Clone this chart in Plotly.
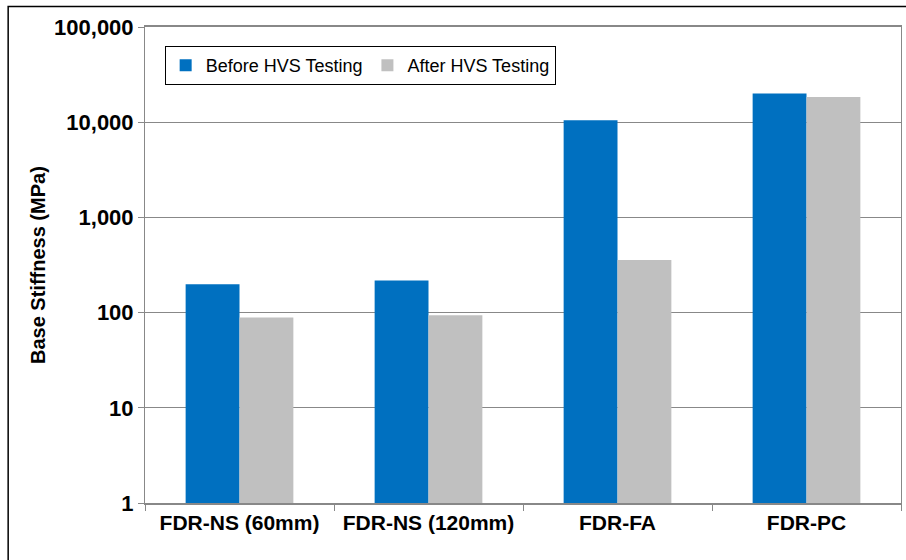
import plotly.graph_objects as go

# base stiffness per section (MPa)
secoes = ['FDR-NS (60mm)', 'FDR-NS (120mm)', 'FDR-FA', 'FDR-PC']
antes = [198, 217, 10500, 20000]
depois = [89, 94, 357, 18400]

ytick_vals = [1, 10, 100, 1000, 10000, 100000]
ytick_text = ['1', '10', '100', '1,000', '10,000', '100,000']

fonte = 'Liberation Sans, Arial, sans-serif'
cinza_eixo = '#888888'

fig = go.Figure()
fig.add_trace(go.Bar(x=secoes, y=antes, name='Before HVS Testing',
                     marker=dict(color='#0070C0', line=dict(width=0))))
fig.add_trace(go.Bar(x=secoes, y=depois, name='After HVS Testing',
                     marker=dict(color='#C0C0C0', line=dict(width=0))))

fig.update_layout(
    width=906, height=560,
    margin=dict(l=145, r=5, t=27, b=57),
    paper_bgcolor='white', plot_bgcolor='white',
    barmode='group', bargap=0.43, bargroupgap=0,
    font=dict(family=fonte, color='black'),
    showlegend=True,
    legend=dict(
        orientation='h', x=0.026, y=0.96, xanchor='left', yanchor='top',
        bordercolor='black', borderwidth=1, bgcolor='white',
        font=dict(size=18, family=fonte),
        itemwidth=30, tracegroupgap=0,
    ),
    xaxis=dict(
        automargin=False,
        showline=True, linecolor=cinza_eixo, linewidth=2, mirror=True,
        ticks='outside', ticklen=6, tickcolor=cinza_eixo, tickson='boundaries',
        tickfont=dict(size=21, family=fonte, weight='bold'),
        showgrid=False,
    ),
    yaxis=dict(
        automargin=False,
        type='log', range=[0, 5],
        tickvals=ytick_vals, ticktext=ytick_text,
        showline=True, linecolor=cinza_eixo, linewidth=1, mirror=True,
        ticks='outside', ticklen=6, tickcolor=cinza_eixo,
        showgrid=True, gridcolor=cinza_eixo, gridwidth=1,
        tickfont=dict(size=22, family=fonte, weight='bold'),
    ),
    annotations=[dict(
        text='Base Stiffness (MPa)', textangle=-90,
        xref='paper', yref='paper', x=-0.1415, y=0.5,
        xanchor='center', yanchor='middle', showarrow=False,
        font=dict(size=20, family=fonte, weight='bold'),
    )],
    # outer chart frame (right and bottom sides fall outside the picture)
    shapes=[dict(
        type='rect', xref='paper', yref='paper',
        x0=-0.181, x1=1.05, y0=-0.2, y1=1.043,
        line=dict(color='black', width=1.5), layer='below',
    )],
)

# drop the default 8px body margin so the figure sits at the page corner
fig.write_html('out.html', config={'displayModeBar': False},
               post_script="document.body.style.margin='0';")
